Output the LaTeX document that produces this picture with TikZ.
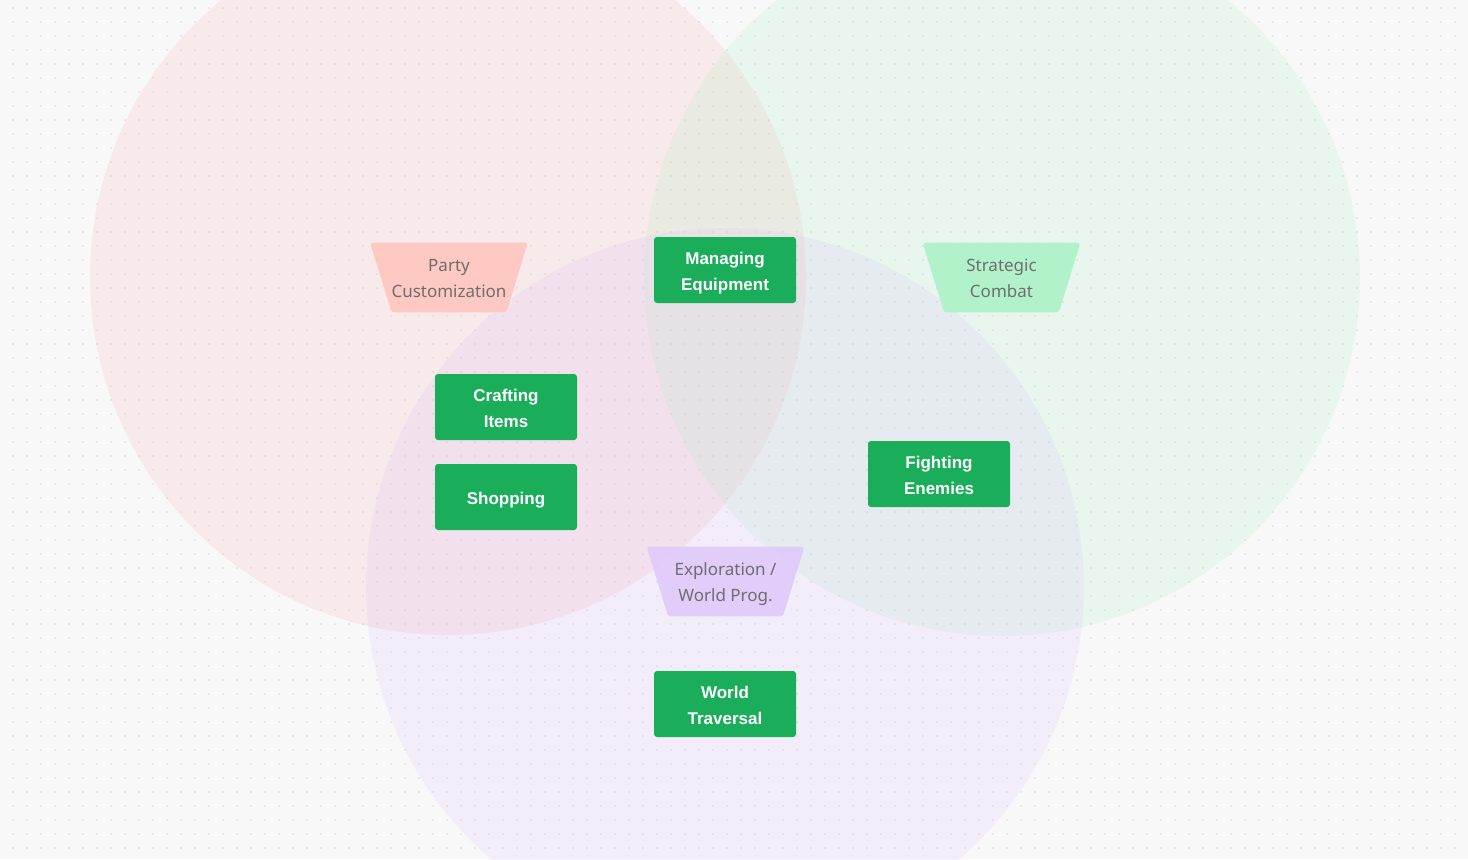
\documentclass[tikz,border=0pt]{standalone}
\usepackage{fontspec}
\setmainfont{Noto Sans}
\newfontfamily\boxfont{Liberation Sans}
\usetikzlibrary{backgrounds}
\definecolor{bgcol}{HTML}{F8F8F8}
\definecolor{dotcol}{HTML}{D4D4D4}
\definecolor{redc}{HTML}{FCA5A5}
\definecolor{greenc}{HTML}{86EFAC}
\definecolor{purplec}{HTML}{D8B4FE}
\definecolor{pinktrap}{HTML}{FFC4BE}
\definecolor{greentrap}{HTML}{ABF2C6}
\definecolor{lavtrap}{HTML}{E0C8FB}
\definecolor{boxgreen}{HTML}{1AAD5A}
\definecolor{graytext}{HTML}{6E6E6E}
\newcommand{\lowtext}[1]{\raisebox{-1pt}[\height][\depth]{\begin{tabular}{@{}c@{}}#1\end{tabular}}}
\tikzset{
  actbox/.style={fill=boxgreen, rounded corners=1.5pt, minimum width=71pt, minimum height=33pt,
    text=white, align=center, font=\boxfont\fontsize{8.5}{13}\selectfont\bfseries, inner sep=0pt},
  traplabel/.style={minimum width=78.5pt, minimum height=34.5pt, align=center, inner sep=0pt,
    text=graytext, font=\fontsize{8.5}{13}\selectfont}
}
\newcommand{\traparea}[2]{%
  \fill[#2, fill opacity=0.88, rounded corners=1.5pt] (#1.north west) -- (#1.north east)
    -- ([xshift=-10.75pt]#1.south east) -- ([xshift=10.75pt]#1.south west) -- cycle;}
\begin{document}
\begin{tikzpicture}[x=0.5pt,y=-0.5pt]
\useasboundingbox (0,0) rectangle (1468,859);
\begin{scope}[on background layer]
\fill[bgcol] (0,0) rectangle (1468,859);
\foreach \j in {0,...,61} {
  \fill[dotcol] \foreach \i in {0,...,104} { (12.4+14*\i, 7.4+14*\j) rectangle ++(1.2,1.2) };
}
\begin{scope}
\clip (0,0) rectangle (1468,859);
\fill[redc, fill opacity=0.16] (448,277) circle (358);
\fill[greenc, fill opacity=0.13] (1002,278) circle (358);
\fill[purplec, fill opacity=0.16] (725,587) circle (359);
\end{scope}
\end{scope}

\node[traplabel] (party) at (449,277.5) {\lowtext{Party\\Customization}};
\node[traplabel] (strat) at (1001.5,277.5) {\lowtext{Strategic\\Combat}};
\node[traplabel] (explo) at (725.5,581.5) {\lowtext{Exploration /\\World Prog.}};
\begin{scope}[on background layer]
\traparea{party}{pinktrap}
\traparea{strat}{greentrap}
\traparea{explo}{lavtrap}
\end{scope}

\node[actbox] (equip) at (725,270) {\lowtext{Managing\\Equipment}};
\node[actbox] (craft) at (506,407) {\lowtext{Crafting\\Items}};
\node[actbox] (shop) at (506,497) {\lowtext{Shopping}};
\node[actbox] (fight) at (939,474) {\lowtext{Fighting\\Enemies}};
\node[actbox] (trav) at (725,704) {\lowtext{World\\Traversal}};
\end{tikzpicture}
\end{document}
